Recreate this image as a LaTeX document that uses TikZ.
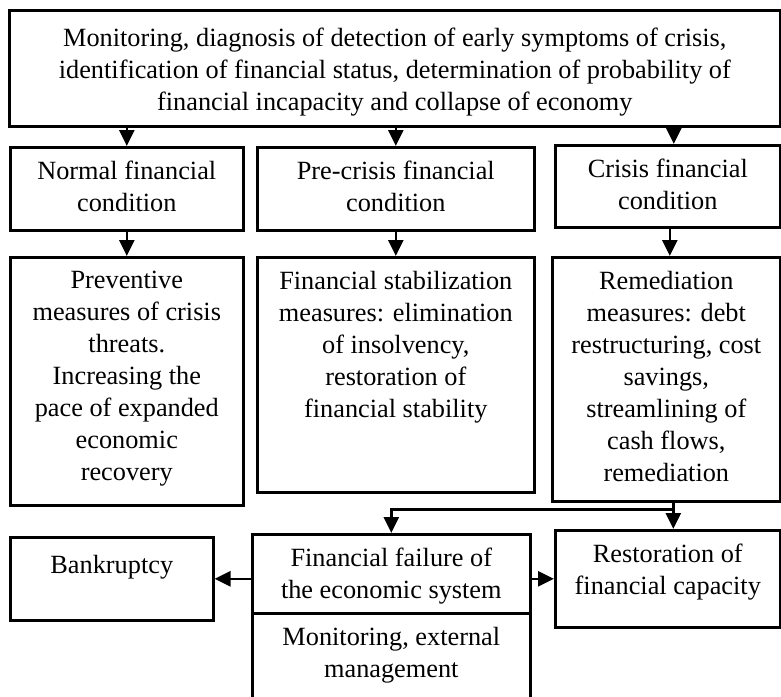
\documentclass[tikz,border=0pt]{standalone}
\usepackage{fontspec}
\setmainfont{Liberation Serif}
\usetikzlibrary{arrows.meta}
\newcommand\bodyfont{\fontsize{26.3pt}{32pt}\selectfont}
\begin{document}
\begin{tikzpicture}[x=1pt,y=-1pt,
  panel/.style={draw, line width=2.6pt, inner sep=0pt, anchor=north west},
  boxtext/.style={anchor=north, align=center, inner sep=0pt, font=\bodyfont,
    execute at begin node=\strut},
  link/.style={line width=2.6pt},
  arr/.style={link, -{Triangle[length=16pt,width=15pt]}}]

\useasboundingbox (0,0) rectangle (781,696);
\fill[white] (0,0) rectangle (781,696);
\clip (0,0) rectangle (781,696);

% frames
\node[panel, minimum width=771pt, minimum height=116pt] (top)  at (8,9)     {};
\node[panel, minimum width=233pt, minimum height=83pt]  (A)    at (9,146)   {};
\node[panel, minimum width=277pt, minimum height=83pt]  (B)    at (256,146) {};
\node[panel, minimum width=225pt, minimum height=82pt]  (C)    at (554,144) {};
\node[panel, minimum width=233pt, minimum height=248pt] (D)    at (9,256)   {};
\node[panel, minimum width=277pt, minimum height=235pt] (E)    at (256,256) {};
\node[panel, minimum width=228pt, minimum height=244pt] (F)    at (551,256) {};
\node[panel, minimum width=203pt, minimum height=83pt]  (bank) at (9,536)   {};
\node[panel, minimum width=278pt, minimum height=79pt]  (fail) at (251,533) {};
\node[panel, minimum width=278pt, minimum height=98pt]  (mgmt) at (251,612) {};
\node[panel, minimum width=225pt, minimum height=97pt]  (rest) at (554,529) {};

% texts
\node[boxtext] (ttop) at ([yshift=-18.8pt]top.north)
  {Monitoring, diagnosis of detection of early symptoms of crisis,\\
   identification of financial status, determination of probability of\\
   financial incapacity and collapse of economy};
\node[boxtext] (tA) at ([yshift=-14.8pt]A.north) {Normal financial\\condition};
\node[boxtext] (tB) at ([yshift=-14.8pt]B.north) {Pre-crisis financial\\condition};
\node[boxtext] (tC) at ([yshift=-14.8pt]C.north) {Crisis financial\\condition};
\node[boxtext] (tD) at ([yshift=-14.8pt]D.north)
  {Preventive\\measures of crisis\\threats.\\Increasing the\\pace of expanded\\economic\\recovery};
\node[boxtext] (tE) at ([yshift=-14.8pt]E.north)
  {Financial stabilization\\measures: elimination\\of insolvency,\\restoration of\\financial stability};
\node[boxtext] (tF) at ([yshift=-14.8pt]F.north)
  {Remediation\\measures: debt\\restructuring, cost\\savings,\\streamlining of\\cash flows,\\remediation};
\node[boxtext] (tbank) at ([yshift=-14.8pt]bank.north) {Bankruptcy};
\node[boxtext] (tfail) at ([yshift=-14.8pt]fail.north) {Financial failure of\\the economic system};
\node[boxtext] (tmgmt) at ([yshift=-14.8pt]mgmt.north) {Monitoring, external\\management};
\node[boxtext] (trest) at ([yshift=-14.8pt]rest.north) {Restoration of\\financial capacity};

% connectors
\draw[arr] (A.north |- top.south) -- (A.north);
\draw[arr] (B.north |- top.south) -- (B.north);
\draw[arr] ([xshift=6pt]C.north |- top.south) -- ([xshift=6pt]C.north);
\draw[arr] (A.south) -- (D.north);
\draw[arr] (B.south) -- (B.south |- E.north);
\draw[arr] ([xshift=2pt]C.south) -- ([xshift=2pt]C.south |- F.north);
\coordinate (fork) at ([xshift=7pt,yshift=-7pt]F.south);
\draw[link] ([xshift=7pt]F.south) -- (fork);
\draw[arr] (fork) -- (fork -| fail.north) -- (fail.north);
\draw[arr] (fork) -- (fork |- rest.north);
\draw[arr] (fail.west |- bank.east) -- (bank.east);
\draw[arr] (fail.east |- rest.west) -- (rest.west);
\end{tikzpicture}
\end{document}
